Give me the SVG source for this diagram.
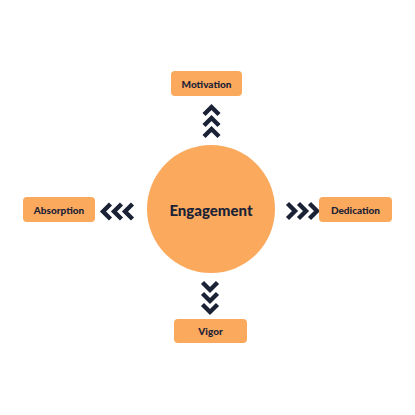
<svg xmlns="http://www.w3.org/2000/svg" width="415" height="415" viewBox="0 0 415 415">
<style>
.box{fill:#FBA95D;}
.lbl{font-family:Lato,"Noto Sans",sans-serif;font-weight:900;font-size:10px;fill:#1B2236;text-anchor:middle;dominant-baseline:central;}
.big{font-size:15px;}
.chev{fill:none;stroke:#1B2236;stroke-width:4.4;stroke-linejoin:miter;stroke-linecap:butt;}
</style>
<defs>
<polyline id="cu" class="chev" points="-7.5,4.5 0,-3 7.5,4.5"/>
</defs>
<rect width="415" height="415" fill="#fff"/>
<g id="connectors">
<g transform="translate(211.5,106)">
<use href="#cu" y="4"/><use href="#cu" y="15"/><use href="#cu" y="26"/>
</g>
<g transform="translate(210,313) rotate(180)">
<use href="#cu" y="4"/><use href="#cu" y="15"/><use href="#cu" y="26"/>
</g>
<g transform="translate(102,211.5) rotate(-90)">
<use href="#cu" y="4"/><use href="#cu" y="15"/><use href="#cu" y="26"/>
</g>
<g transform="translate(318,211) rotate(90)">
<use href="#cu" y="4"/><use href="#cu" y="15"/><use href="#cu" y="26"/>
</g>
</g>
<g id="engagement">
<circle class="box" cx="211" cy="209" r="64"/>
<text class="lbl big" x="211" y="210">Engagement</text>
</g>
<g id="motivation">
<rect class="box" x="171" y="71" width="71" height="25" rx="4"/>
<text class="lbl" x="206.5" y="83.5">Motivation</text>
</g>
<g id="absorption">
<rect class="box" x="23" y="197" width="72" height="25" rx="4"/>
<text class="lbl" x="59" y="209.5">Absorption</text>
</g>
<g id="dedication">
<rect class="box" x="319" y="197" width="73" height="25" rx="4"/>
<text class="lbl" x="355.5" y="209.5">Dedication</text>
</g>
<g id="vigor">
<rect class="box" x="174" y="319" width="73" height="24" rx="4"/>
<text class="lbl" x="210.5" y="331">Vigor</text>
</g>
</svg>
